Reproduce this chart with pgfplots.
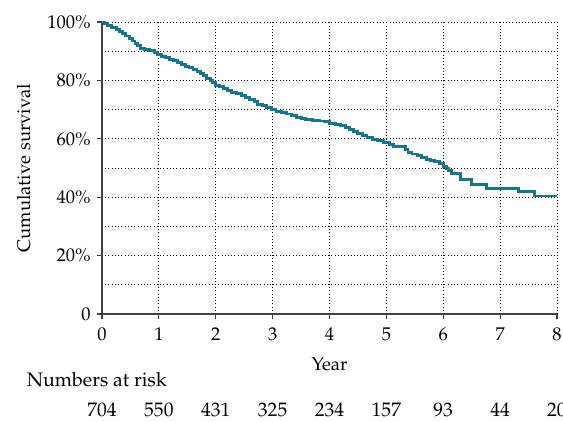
\documentclass[border=0pt]{standalone}
\usepackage[T1]{fontenc}
\usepackage{mathpazo}
\usepackage{pgfplots}
\pgfplotsset{compat=1.18}
\definecolor{kmteal}{RGB}{24,118,140}
\definecolor{axgray}{RGB}{70,66,66}
\begin{document}
\fontsize{12}{14.4}\selectfont
\begin{tikzpicture}[risk/.style={inner sep=0pt, font=\fontsize{12.7}{15}\selectfont}]
\begin{axis}[
    scale only axis,
    width=295.75pt, height=189.8pt,
    xmin=0, xmax=8, ymin=0, ymax=100,
    axis lines=left,
    axis line style={-, axgray, line width=1pt},
    every tick/.style={axgray, line width=0.8pt},
    tick align=outside,
    major tick length=3.25pt,
    minor tick length=0pt,
    xtick={0,1,...,8},
    ytick={0,20,40,60,80,100},
    yticklabels={0,20\%,40\%,60\%,80\%,100\%},
    xticklabel style={yshift=-1.5pt},
    minor y tick num=1,
    grid=both,
    grid style={black, line width=0.6pt, dash pattern=on 0.6pt off 1.5pt},
    minor grid style={black, line width=0.6pt, dash pattern=on 0.6pt off 1.5pt},
    xlabel={Year},
    ylabel={Cumulative survival},
    xlabel style={at={(axis description cs:0.5,-0.1939)}, anchor=base},
    ylabel style={at={(axis description cs:-0.1582,0.5)}, anchor=base},
    clip=false,
]
\addplot[const plot, kmteal, line width=1.9pt] coordinates {
    (0,100) (0.05,99.4) (0.1,98.8) (0.17,98.2) (0.25,97.5) (0.3,96.8)
    (0.36,96.0) (0.42,95.2) (0.48,94.4) (0.53,93.5) (0.58,92.6) (0.63,91.8)
    (0.68,91.0) (0.75,90.6) (0.84,90.2) (0.92,89.6) (0.98,88.8) (1.05,88.3)
    (1.12,87.8) (1.18,87.2) (1.25,86.7) (1.33,86.1) (1.40,85.6) (1.47,84.9)
    (1.53,84.3) (1.60,83.7) (1.67,83.1) (1.73,82.4) (1.79,81.6) (1.84,80.8)
    (1.90,80.0) (1.95,79.2) (2.00,78.4) (2.06,77.8) (2.13,77.2) (2.20,76.6)
    (2.28,76.0) (2.36,75.4) (2.45,74.8) (2.52,74.0) (2.60,73.4) (2.68,72.7)
    (2.74,71.9) (2.82,71.4) (2.90,70.7) (2.98,70.0) (3.06,69.4) (3.15,69.0)
    (3.25,68.5) (3.33,68.0) (3.42,67.4) (3.50,66.8) (3.58,66.5) (3.70,66.3)
    (3.82,66.1) (3.92,65.8) (4.00,65.3) (4.10,65.0) (4.20,64.6) (4.28,64.0)
    (4.35,63.3) (4.42,62.6) (4.50,61.7) (4.58,61.0) (4.66,60.4) (4.75,59.8)
    (4.85,59.3) (4.95,58.7) (5.05,58.0) (5.12,57.4) (5.33,56.3) (5.38,55.4)
    (5.45,54.8) (5.55,54.2) (5.62,53.6) (5.70,53.0) (5.78,52.5) (5.85,52.1)
    (5.93,51.4) (6.00,50.6) (6.05,49.8) (6.10,49.0) (6.15,48.2) (6.30,46.1)
    (6.50,44.2) (6.76,43.0) (7.32,41.9) (7.61,40.4) (8.00,40.4)
};
% numbers at risk
\node[risk, anchor=base west] at (axis cs:0,0) [xshift=-49pt, yshift=-46.8pt] {Numbers at risk};
\node[risk] at (axis cs:0,0) [yshift=-62.5pt] {704};
\node[risk] at (axis cs:1,0) [yshift=-62.5pt] {550};
\node[risk] at (axis cs:2,0) [yshift=-62.5pt] {431};
\node[risk] at (axis cs:3,0) [yshift=-62.5pt] {325};
\node[risk] at (axis cs:4,0) [yshift=-62.5pt] {234};
\node[risk] at (axis cs:5,0) [yshift=-62.5pt] {157};
\node[risk] at (axis cs:6,0) [yshift=-62.5pt] {93};
\node[risk] at (axis cs:7,0) [yshift=-62.5pt] {44};
\node[risk] at (axis cs:8,0) [yshift=-62.5pt] {20};
\end{axis}
\pgfresetboundingbox
\path[use as bounding box] (-66.3pt,-69.55pt) rectangle (299.65pt,204.1pt);
\end{tikzpicture}
\end{document}
